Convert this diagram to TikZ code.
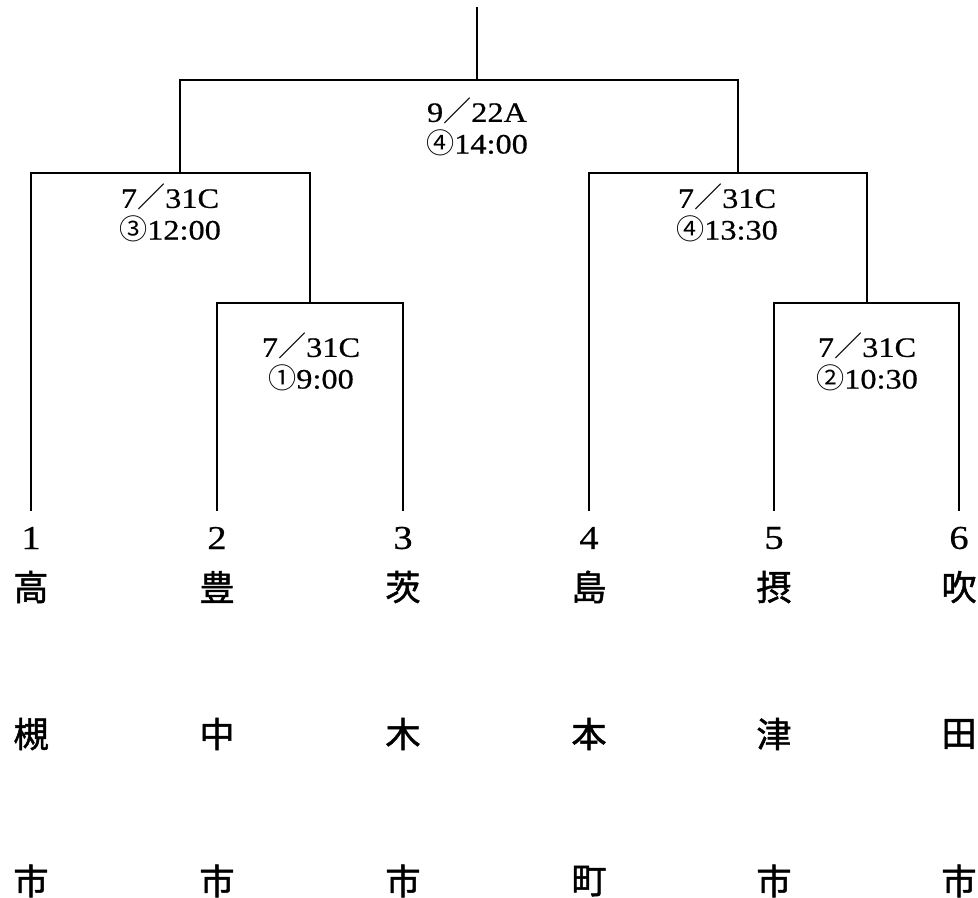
\documentclass[tikz,border=0pt]{standalone}
\usepackage{fontspec}
\setmainfont{Liberation Serif}[FakeBold=0.6, FakeStretch=1.15]
\newfontfamily\cjk{Noto Sans CJK JP}[FakeBold=1.4]
\newfontfamily\cjkl{Noto Sans CJK JP}
\usepackage{tikz}
\usetikzlibrary{calc}
\tikzstyle{wire} = [line width=1.1pt, line cap=rect]
\tikzstyle{seed} = [inner sep=0pt, font=\fontsize{19}{21}\selectfont]
\tikzstyle{kanji} = [inner sep=0pt, font=\cjk\fontsize{20}{22}\selectfont]
\tikzstyle{match} = [inner sep=0pt, align=center, font=\fontsize{16}{18}\selectfont]
\newcommand{\fsl}{{\cjkl ／}}
\newcommand{\cn}[1]{{\cjkl #1}}

\begin{document}
\begin{tikzpicture}[x=0.02cm, y=-0.02cm]
        \useasboundingbox (0, 0) rectangle (978, 897);

        % teams
        \node[seed] at (31, 538) (T1) {1};
        \node[seed] at (217, 538) (T2) {2};
        \node[seed] at (403, 538) (T3) {3};
        \node[seed] at (589, 538) (T4) {4};
        \node[seed] at (774, 538) (T5) {5};
        \node[seed] at (959, 538) (T6) {6};

        \node[kanji] at (31, 587) (A1) {高};
        \node[kanji] at (31, 734) (B1) {槻};
        \node[kanji] at (31, 881) (C1) {市};
        \node[kanji] at (217, 587) (A2) {豊};
        \node[kanji] at (217, 734) (B2) {中};
        \node[kanji] at (217, 881) (C2) {市};
        \node[kanji] at (403, 587) (A3) {茨};
        \node[kanji] at (403, 734) (B3) {木};
        \node[kanji] at (403, 881) (C3) {市};
        \node[kanji] at (589, 587) (A4) {島};
        \node[kanji] at (589, 734) (B4) {本};
        \node[kanji] at (589, 881) (C4) {町};
        \node[kanji] at (774, 587) (A5) {摂};
        \node[kanji] at (774, 734) (B5) {津};
        \node[kanji] at (774, 881) (C5) {市};
        \node[kanji] at (959, 587) (A6) {吹};
        \node[kanji] at (959, 734) (B6) {田};
        \node[kanji] at (959, 881) (C6) {市};

        % bracket joints
        \coordinate (E1) at (31, 510);
        \coordinate (E2) at (217, 510);
        \coordinate (E3) at (403, 510);
        \coordinate (E4) at (589, 510);
        \coordinate (E5) at (774, 510);
        \coordinate (E6) at (959, 510);
        \coordinate (R1) at (310, 303);
        \coordinate (R2) at (867, 303);
        \coordinate (S1) at (180, 173);
        \coordinate (S2) at (738, 173);
        \coordinate (F) at (477, 80);
        \coordinate (Top) at (477, 8);

        \draw[wire] (E2) |- (R1) -| (E3);
        \draw[wire] (E5) |- (R2) -| (E6);
        \draw[wire] (E1) |- (S1) -| (R1);
        \draw[wire] (E4) |- (S2) -| (R2);
        \draw[wire] (S1) |- (F) -| (S2);
        \draw[wire] (F) -- (Top);

        % match dates
        \node[match] at (477, 127) (M0) {9\fsl22A\\\cn{④}14:00};
        \node[match] at (170, 213) (M1) {7\fsl31C\\\cn{③}12:00};
        \node[match] at (727, 213) (M2) {7\fsl31C\\\cn{④}13:30};
        \node[match] at (311, 362) (M3) {7\fsl31C\\\cn{①}9:00};
        \node[match] at (867, 362) (M4) {7\fsl31C\\\cn{②}10:30};
    \end{tikzpicture}
\end{document}
